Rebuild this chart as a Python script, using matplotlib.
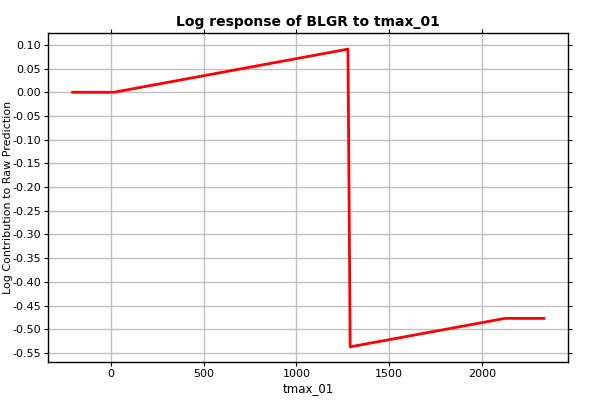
import numpy as np
import matplotlib.pyplot as plt

# breakpoints of the response curve
tmax = [-207, 16, 1278, 1290, 2125, 2335]
response = [0.0, 0.0, 0.091, -0.537, -0.477, -0.477]

x_ticks = [0, 500, 1000, 1500, 2000]
y_ticks = np.round(np.arange(0.10, -0.551, -0.05), 2)

fig = plt.figure(figsize=(6, 4), dpi=100)
ax = fig.add_axes([0.08, 0.095, 0.8667, 0.8225])

ax.plot(tmax, response, color='red', lw=2)

ax.set_xlim(-340, 2465)
ax.set_ylim(-0.569, 0.125)
ax.set_xticks(x_ticks)
ax.set_yticks(y_ticks)
ax.set_yticklabels([f"{v:.2f}" for v in y_ticks])
ax.grid(True, color='#c0c0c0', lw=1)
ax.set_axisbelow(True)
ax.tick_params(labelsize=8, direction='out', length=3, pad=2, top=True, right=True, color='black')
for s in ax.spines.values():
    s.set_linewidth(1)

ax.set_title('Log response of BLGR to tmax_01', fontsize=10, fontweight='bold', pad=5)
ax.set_xlabel('tmax_01', fontsize=8.5, labelpad=2)
ax.set_ylabel('Log Contribution to Raw Prediction', fontsize=8)
ax.yaxis.set_label_coords(-0.068, 0.5)

fig.savefig('out.png', dpi=100)
